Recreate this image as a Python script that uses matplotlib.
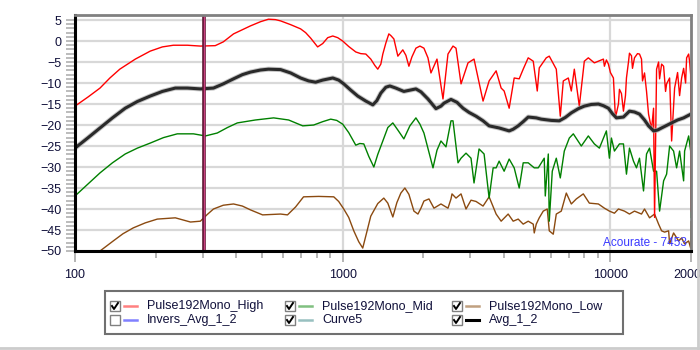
import matplotlib
matplotlib.use('Agg')
import matplotlib.pyplot as plt
from matplotlib.lines import Line2D
from matplotlib.patches import Rectangle
from matplotlib.ticker import FixedLocator, NullFormatter, FixedFormatter

plt.rcParams['font.family'] = ['Liberation Sans', 'DejaVu Sans']

# Pulse192Mono_High (red)
high_f = [100, 112, 124, 135, 147, 168, 191, 212, 233, 263, 294, 334, 358, 391, 422, 452, 493,
          528, 561, 586, 639, 696, 727, 759, 806, 842, 879, 918, 958, 1000, 1053, 1119, 1168,
          1220, 1273, 1318, 1352, 1388, 1412, 1449, 1487, 1513, 1553, 1607, 1635, 1677, 1722,
          1767, 1813, 1877, 1943, 2011, 2082, 2136, 2250, 2369, 2473, 2582, 2650, 2767, 2938,
          3094, 3344, 3523, 3742, 3907, 4009, 4186, 4371, 4563, 4723, 4931, 5149, 5330, 5422,
          5760, 5910, 6278, 6498, 6668, 6962, 7144, 7331, 7653, 7990, 8270, 8711, 9415, 9496,
          9660, 9829, 10000, 10262, 10440, 10715, 10807, 10996, 11187, 11382, 11480, 11681,
          11781, 11987, 12090, 12300, 12622, 12843, 13067, 13180, 13410, 13644, 13882, 14246,
          14494, 14620, 14875, 15134, 15265, 15531, 15801, 16070, 16215, 16640, 16930, 17369,
          17820, 18130, 18450, 18770, 19090, 19260, 19600, 19770, 19940, 20000]
high_db = [-15.5, -13.3, -11.2, -8.8, -6.7, -4.3, -2.4, -1.4, -1.0, -1.0, -1.2, -1.1, -0.2, 1.7,
           2.7, 3.6, 4.6, 5.2, 5.1, 4.8, 3.9, 2.9, 2.0, 0.7, -1.4, -0.6, 0.8, 1.2, 0.8, 0.0, -1.3,
           -2.6, -3.0, -3.1, -4.3, -5.8, -6.7, -5.5, -3.1, -0.5, 1.7, 1.3, 0.5, -3.6, -3.0, -2.1,
           -3.4, -6.0, -3.8, -1.7, -1.2, -1.7, -4.0, -7.6, -4.3, -13.8, -3.1, -1.2, -1.7, -10.2,
           -5.2, -4.3, -14.3, -9.5, -7.1, -11.2, -11.9, -16.0, -8.8, -9.0, -6.7, -4.0, -4.8,
           -11.9, -6.4, -4.0, -3.6, -6.7, -17.9, -9.5, -8.8, -11.9, -6.7, -15.5, -4.8, -4.0,
           -5.2, -4.3, -6.0, -4.5, -5.5, -7.5, -8.8, -18.3, -15.0, -11.5, -12.5, -16.7, -13.0,
           -8.8, -5.0, -2.9, -3.5, -6.5, -4.0, -3.0, -3.1, -4.3, -9.5, -7.6, -12.0, -17.4,
           -21.0, -16.0, -42.0, -6.7, -5.0, -9.0, -5.5, -6.0, -12.0, -10.2, -8.8, -23.8, -11.2,
           -7.5, -13.0, -8.8, -6.5, -10.0, -4.0, -3.1, -5.0, -8.0, -40.5]

# Pulse192Mono_Mid (green)
mid_f = [100, 112, 124, 138, 154, 171, 191, 214, 241, 277, 307, 340, 371, 404, 472, 552, 628,
         709, 779, 842, 902, 950, 1000, 1053, 1119, 1158, 1199, 1252, 1307, 1352, 1412, 1474,
         1539, 1607, 1692, 1782, 1877, 1943, 2011, 2100, 2174, 2250, 2328, 2431, 2538, 2582,
         2696, 2767, 2888, 3015, 3094, 3231, 3374, 3523, 3647, 3742, 3840, 4009, 4186, 4371,
         4563, 4723, 4931, 5194, 5376, 5660, 5711, 5861, 5910, 6065, 6278, 6498, 6726, 7022,
         7268, 7786, 8270, 8711, 9095, 9660, 9914, 10087, 10351, 10807, 11187, 11480, 11781,
         12194, 12514, 12843, 13295, 13644, 14002, 14494, 14875, 15265, 15801, 16215, 16640,
         17219, 17670, 18130, 18770, 18930, 19600, 19940, 20000]
mid_db = [-36.9, -34.0, -31.4, -29.0, -26.9, -25.5, -24.3, -23.0, -22.1, -22.1, -22.6, -21.9,
          -20.6, -19.5, -18.8, -18.3, -18.8, -20.2, -20.0, -19.2, -18.6, -18.9, -19.8, -21.8,
          -24.8, -24.4, -24.5, -27.5, -30.0, -27.0, -23.8, -20.6, -19.5, -21.2, -23.3, -20.2,
          -18.3, -19.8, -21.9, -26.5, -30.2, -26.0, -23.8, -25.2, -19.0, -19.0, -29.0, -27.9,
          -26.7, -27.9, -33.8, -25.7, -26.9, -37.4, -30.2, -30.2, -28.6, -31.0, -28.1, -30.2,
          -35.0, -29.0, -29.0, -30.2, -30.2, -27.9, -36.9, -26.9, -42.9, -31.0, -27.9, -32.6,
          -26.2, -23.1, -22.1, -25.0, -22.6, -24.5, -25.5, -21.4, -27.9, -23.1, -26.2, -24.5,
          -24.5, -31.7, -25.5, -28.6, -30.2, -27.9, -35.7, -26.9, -25.5, -31.0, -31.0, -40.5,
          -33.3, -31.7, -25.0, -26.2, -30.2, -26.2, -33.3, -26.2, -22.6, -26.2, -42.0]

# Pulse192Mono_Low (brown)
low_f = [100, 124, 139, 151, 165, 183, 203, 237, 270, 294, 312, 329, 358, 391, 422, 452, 502,
         586, 622, 667, 714, 813, 926, 966, 1009, 1053, 1100, 1148, 1188, 1230, 1273, 1352,
         1424, 1474, 1539, 1593, 1649, 1707, 1767, 1845, 1910, 1960, 2011, 2100, 2192, 2328,
         2473, 2538, 2560, 2650, 2767, 2888, 3015, 3148, 3344, 3523, 3742, 3907, 4150, 4333,
         4524, 4723, 4931, 5149, 5194, 5284, 5422, 5612, 5808, 5910, 6117, 6278, 6554, 6843,
         7144, 7458, 7921, 8342, 9017, 9496, 9914, 10351, 10715, 11284, 11781, 12300, 13067,
         13410, 14002, 14620, 15134, 15531, 15938, 16498, 16640, 17219, 17980, 18450, 18930,
         19600, 19940, 20000]
low_db = [-55.0, -50.0, -47.6, -45.9, -44.5, -43.3, -42.4, -42.1, -43.1, -42.9, -41.3, -40.0,
          -39.1, -38.8, -39.3, -40.2, -41.4, -41.2, -41.4, -39.5, -37.1, -37.0, -37.1, -38.2,
          -40.0, -42.0, -45.2, -47.8, -49.3, -45.5, -41.7, -38.7, -37.4, -38.6, -41.9, -38.5,
          -36.2, -35.0, -36.5, -40.5, -41.2, -39.8, -38.1, -37.6, -39.8, -38.8, -39.8, -37.6,
          -36.4, -37.4, -36.4, -40.0, -37.9, -38.2, -39.3, -37.1, -41.2, -42.9, -41.2, -42.9,
          -42.4, -43.6, -42.9, -43.6, -45.7, -43.6, -42.1, -40.5, -40.0, -45.2, -46.0, -41.2,
          -40.5, -36.2, -38.8, -37.6, -36.4, -38.6, -38.8, -39.8, -40.5, -41.0, -40.0, -40.5,
          -41.2, -40.5, -41.2, -40.0, -42.1, -41.2, -43.6, -45.2, -45.5, -45.2, -48.3, -45.7,
          -47.6, -46.9, -48.3, -47.6, -49.3, -43.0]

# Avg_1_2 (black)
avg_f = [100, 112, 124, 138, 154, 171, 191, 212, 237, 263, 294, 329, 358, 391, 422, 452, 493,
         528, 586, 639, 696, 746, 792, 842, 918, 966, 1009, 1072, 1138, 1220, 1296, 1341, 1388,
         1449, 1500, 1579, 1692, 1782, 1877, 1960, 2082, 2230, 2328, 2389, 2538, 2673, 2815,
         2964, 3148, 3344, 3523, 3840, 4186, 4333, 4524, 4723, 4931, 5284, 5516, 6011, 6442,
         6785, 7144, 7592, 7990, 8488, 9017, 9415, 9829, 10174, 10532, 11187, 11781, 12300,
         12843, 13410, 13882, 14494, 14997, 15531, 16930, 17820, 18770, 19430, 20000]
avg_db = [-25.5, -23.0, -20.7, -18.3, -16.0, -14.4, -13.1, -12.0, -11.2, -11.2, -11.4, -11.2,
          -10.2, -9.0, -8.0, -7.4, -6.9, -6.7, -6.8, -7.6, -8.8, -9.5, -9.8, -9.3, -8.8, -9.3,
          -10.2, -11.7, -13.1, -14.3, -15.2, -14.2, -12.4, -11.0, -10.7, -11.2, -12.0, -11.7,
          -11.4, -12.1, -13.8, -16.1, -15.5, -14.8, -13.9, -14.6, -16.0, -17.0, -17.9, -19.0,
          -20.2, -20.7, -21.4, -21.0, -20.2, -19.2, -18.1, -18.3, -18.6, -18.9, -19.0, -18.2,
          -17.1, -16.1, -15.5, -15.1, -15.0, -15.4, -16.0, -17.3, -18.3, -18.1, -16.7, -16.9,
          -17.4, -18.8, -20.2, -21.4, -21.2, -20.7, -19.5, -18.8, -18.3, -17.8, -17.4]

marker_f = 304

legend_names = ['Pulse192Mono_High', 'Pulse192Mono_Mid', 'Pulse192Mono_Low',
                'Invers_Avg_1_2', 'Curve5', 'Avg_1_2']
legend_colors = ['#ff8080', '#80c080', '#c0a080', '#8080ff', '#98c0c0', '#000000']
legend_checked = [True, True, True, False, True, True]

W, H = 700, 350
fig = plt.figure(figsize=(7, 3.5), dpi=100)
ax = fig.add_axes([75 / W, 1 - 251 / H, 616 / W, 236 / H])


def px(x, y):
    return x / W, 1 - y / H


ax.set_xscale('log')
ax.set_xlim(100, 20000)
ax.set_ylim(-50, 6.2)

ax.plot(low_f, low_db, color='#8b4a10', lw=1)
ax.plot(mid_f, mid_db, color='#008000', lw=1)
ax.plot(high_f, high_db, color='#ff0000', lw=1)
ax.plot(avg_f, avg_db, color='#a0a0a0', lw=3.6, alpha=0.6)
ax.plot(avg_f, avg_db, color='#2a2a2a', lw=2.2)
ax.axvline(marker_f, color='#5a1430', lw=2.6)
ax.axvline(marker_f, color='#c84080', lw=1.0)

# ticks and grid
ax.xaxis.set_major_locator(FixedLocator([100, 1000, 10000, 20000]))
ax.xaxis.set_major_formatter(FixedFormatter(['100', '1000', '10000', '20000']))
minors = [200, 300, 400, 500, 600, 700, 800, 900,
          2000, 3000, 4000, 5000, 6000, 7000, 8000, 9000]
ax.xaxis.set_minor_locator(FixedLocator(minors))
ax.xaxis.set_minor_formatter(NullFormatter())
ax.yaxis.set_major_locator(FixedLocator(list(range(-50, 6, 5))))
ax.yaxis.set_minor_locator(FixedLocator(list(range(-50, 6))))

tcol = '#10103a'
ax.tick_params(axis='x', which='major', length=8, width=1.2, color='#a8a8a8',
               labelsize=9, labelcolor=tcol, pad=5)
ax.tick_params(axis='x', which='minor', length=5, width=1.2, color='#a8a8a8')
ax.tick_params(axis='y', which='both', length=6.5, width=1.2, color='#b0b0b0',
               labelsize=9, labelcolor=tcol, pad=3)

ax.set_axisbelow(True)
ax.grid(axis='y', which='major', color='#d8d8d8', lw=1.6)
for gx in [1000, 10000]:
    ax.axvline(gx, color='#d8d8d8', lw=1.6, zorder=0.5)

for s in ['left', 'bottom']:
    ax.spines[s].set_color('black')
    ax.spines[s].set_linewidth(2.2)
for s in ['top', 'right']:
    ax.spines[s].set_color('#808080')
    ax.spines[s].set_linewidth(2)

ax.text(0.9935, 0.034, 'Acourate - 7453', transform=ax.transAxes, ha='right', va='center',
        fontsize=8.5, color='#3a3aff')

# legend box with check boxes
x0, y0 = px(105, 334)
x1, y1 = px(623, 291)
fig.patches.append(Rectangle((x0, y0), x1 - x0, y1 - y0, transform=fig.transFigure,
                             fill=False, edgecolor='#707070', lw=1.5))
col_x = [110, 285, 452]
row_y = [306, 320]
for i, name in enumerate(legend_names):
    cx = col_x[i % 3]
    cy = row_y[i // 3]
    bx, by = px(cx, cy + 5)
    fig.patches.append(Rectangle((bx, by), 10 / W, 10 / H, transform=fig.transFigure,
                                 facecolor='white', edgecolor='#808080', lw=1))
    if legend_checked[i]:
        xs = [cx + 2, cx + 4, cx + 8]
        ys = [cy, cy + 3, cy - 3]
        fig.lines.append(Line2D([x / W for x in xs], [1 - y / H for y in ys],
                                transform=fig.transFigure, color='black', lw=1.4))
    lw = 2.2 if legend_colors[i] == '#000000' else 1.8
    fig.lines.append(Line2D([(cx + 14) / W, (cx + 27) / W], [1 - cy / H, 1 - cy / H],
                            transform=fig.transFigure, color=legend_colors[i], lw=lw))
    fig.text((cx + 37) / W, 1 - cy / H, name, ha='left', va='center', fontsize=9,
             color='#10103a')

# window frame edges
fig.lines.append(Line2D([698 / W, 698 / W], [0, 1], transform=fig.transFigure,
                        color='#cccccc', lw=2))
fig.lines.append(Line2D([0, 698 / W], [1 - 348 / H, 1 - 348 / H], transform=fig.transFigure,
                        color='#cccccc', lw=2))

fig.savefig('out.png', dpi=100)
